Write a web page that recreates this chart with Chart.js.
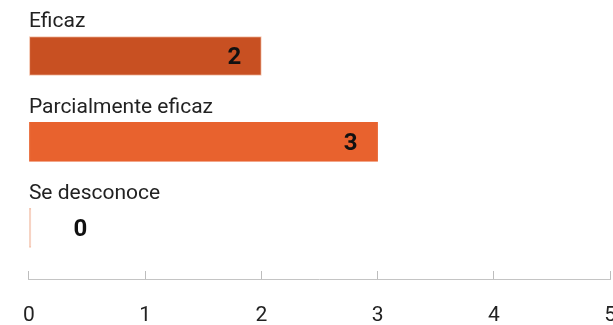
<!DOCTYPE html>
<html>
<head>
<meta charset="utf-8">
<script src="https://cdn.jsdelivr.net/npm/chart.js@4/dist/chart.umd.min.js"></script>
<style>
  html, body { margin: 0; padding: 0; background: #fff; overflow: hidden; }
  #wrap { position: relative; width: 639px; height: 354px; }
</style>
</head>
<body>
<div id="wrap"><canvas id="eficaciaChart"></canvas></div>
<script>
// Datos
const categorias = ['Eficaz', 'Parcialmente eficaz', 'Se desconoce'];
const valores = [2, 3, 0];
const ticksX = [0, 1, 2, 3, 4, 5];

const coloresBarra = ['#C85022', '#E8622E', '#F4C6B0'];
const coloresBorde = ['#F4C6B0', '#E8622E', '#F4C6B0'];
const FUENTE = 'Roboto, "Noto Sans", sans-serif';

// etiquetas de valor dentro de la barra (o a la derecha si no cabe)
const etiquetasValor = {
    id: 'etiquetasValor',
    afterDatasetsDraw(chart) {
        const { ctx } = chart;
        const meta = chart.getDatasetMeta(0);
        ctx.save();
        ctx.font = `bold 24px ${FUENTE}`;
        ctx.fillStyle = '#111';
        ctx.textBaseline = 'middle';
        meta.data.forEach((bar, i) => {
            const texto = String(valores[i]);
            const w = ctx.measureText(texto).width;
            if (bar.x - bar.base > w + 30) {
                ctx.textAlign = 'right';
                ctx.fillText(texto, bar.x - 20, bar.y + 2);
            } else {
                ctx.textAlign = 'left';
                ctx.fillText(texto, bar.base + 44, bar.y + 2);
            }
        });
        ctx.restore();
    }
};

new Chart(document.getElementById('eficaciaChart'), {
    type: 'bar',
    data: {
        labels: categorias,
        datasets: [{
            data: valores,
            xAxisID: 'x',
            backgroundColor: coloresBarra,
            borderColor: coloresBorde,
            borderWidth: 1,
            borderSkipped: false,
            barThickness: 39,
            minBarLength: 2
        }]
    },
    options: {
        indexAxis: 'y',
        responsive: true,
        maintainAspectRatio: false,
        animation: false,
        layout: { padding: { left: 26, top: 13, right: 0, bottom: 3 } },
        plugins: {
            legend: { display: false },
            tooltip: { enabled: false }
        },
        scales: {
            y: {
                type: 'category',
                grid: { display: false, drawTicks: false },
                border: { display: false },
                ticks: {
                    mirror: true,
                    padding: 0,
                    labelOffset: -34,
                    color: '#222',
                    font: { family: FUENTE, size: 21 }
                }
            },
            // marcas de graduación (hacia arriba desde la línea base)
            x: {
                type: 'linear',
                position: 'bottom',
                weight: 0,
                min: 0,
                max: 5,
                ticks: { display: false, stepSize: 1 },
                grid: { drawOnChartArea: false, drawTicks: true, tickLength: 9, color: '#BDBDBD' },
                border: { display: false }
            },
            // línea base y etiquetas
            x2: {
                type: 'linear',
                position: 'bottom',
                weight: 1,
                min: 0,
                max: 5,
                afterBuildTicks: scale => { scale.ticks = ticksX.map(v => ({ value: v })); },
                ticks: {
                    padding: 23,
                    color: '#222',
                    font: { family: FUENTE, size: 21 }
                },
                grid: { drawOnChartArea: false, drawTicks: false },
                border: { display: true, color: '#C4C4C4', width: 1 }
            }
        }
    },
    plugins: [etiquetasValor]
});
</script>
</body>
</html>
